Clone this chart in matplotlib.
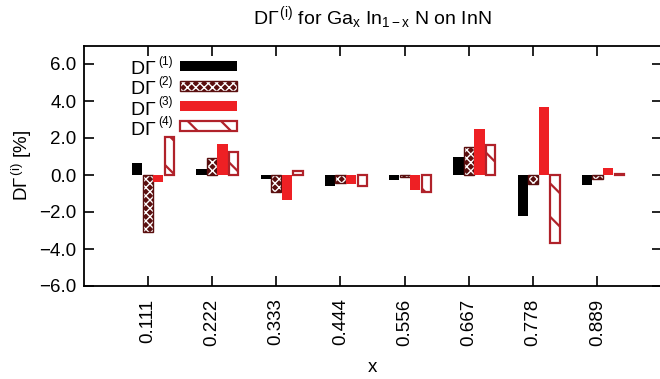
import matplotlib
matplotlib.use("Agg")
import matplotlib.pyplot as plt
from matplotlib.patches import Rectangle
import numpy as np

plt.rcParams['font.family'] = ['Liberation Sans', 'DejaVu Sans']
plt.rcParams['mathtext.fontset'] = 'custom'
plt.rcParams['mathtext.rm'] = 'Liberation Sans'
plt.rcParams['mathtext.it'] = 'Liberation Sans'
plt.rcParams['mathtext.bf'] = 'Liberation Sans'
plt.rcParams['hatch.linewidth'] = 1.6

categories = ["0.111", "0.222", "0.333", "0.444", "0.556", "0.667", "0.778", "0.889"]
d1 = [0.63, 0.31, -0.22, -0.58, -0.25, 0.99, -2.20, -0.53]
d2 = [-3.06, 0.94, -0.92, -0.41, -0.09, 1.51, -0.47, -0.21]
d3 = [-0.36, 1.68, -1.35, -0.50, -0.81, 2.49, 3.69, 0.38]
d4 = [2.04, 1.23, 0.22, -0.58, -0.90, 1.60, -3.69, 0.05]
sups = ["(1)", "(2)", "(3)", "(4)"]
yticks = [-6, -4, -2, 0, 2, 4, 6]

black = "#000000"
maroon = "#5a0f0f"
red = "#ee2024"
hred = "#b0222a"
FS = 13.5

W, H = 660, 379
fig = plt.figure(figsize=(W / 100, H / 100), dpi=100)
L, R, T, B = 83.5, 661.6, 45.5, 286.0
ax = fig.add_axes([L / W, 1 - B / H, (R - L) / W, (B - T) / H])


def thin_hatch(patches, lw):
    for p in patches:
        if hasattr(p, "set_hatch_linewidth"):
            p.set_hatch_linewidth(lw)


x = np.arange(len(categories))
w = 0.16
ax.bar(x - 0.162, d1, width=w, color=black, linewidth=0)
with plt.rc_context({'hatch.linewidth': 1.0}):
    bc = ax.bar(x, d2, width=w, facecolor=maroon, edgecolor="white", hatch="xxxx", linewidth=0)
thin_hatch(bc, 1.0)
ax.bar(x, d2, width=w, fill=False, edgecolor=maroon, linewidth=1.0)
ax.bar(x + 0.165, d3, width=w, color=red, linewidth=0)
ax.bar(x + 0.34, d4, width=0.145, facecolor="white", edgecolor=hred, hatch="\\", linewidth=1.6)

ax.set_xlim(-1, 8)
ax.set_ylim(-6, 7)
ax.set_xticks(x)
ax.set_xticklabels(categories, rotation=90, fontsize=FS)
ax.set_yticks(yticks)
ax.set_yticklabels([("%.1f" % v).replace("-", "\u2212") for v in yticks], fontsize=FS)
ax.tick_params(direction="in", length=7, width=1.2, top=True, right=True)
ax.tick_params(axis="x", pad=9)
ax.tick_params(axis="y", pad=5)
for s in ax.spines.values():
    s.set_linewidth(1.3)

# legend (key) drawn in figure pixel coordinates
ycent = [65.7, 85.7, 105.9, 125.7]
styles = [
    dict(facecolor=black, linewidth=0),
    dict(facecolor=maroon, edgecolor="white", hatch="xxxx", linewidth=0),
    dict(facecolor=red, linewidth=0),
    dict(facecolor="white", edgecolor=hred, hatch="\\", linewidth=1.6),
]
for sup, yc, st in zip(sups, ycent, styles):
    fig.text(156.5 / W, 1 - (yc + 8.8) / H, r"D$\Gamma$", ha="right", va="baseline", fontsize=FS + 0.5)
    fig.text(158.5 / W, 1 - (yc - 1.0) / H, sup, ha="left", va="baseline", fontsize=8.5)
    rect = ((179.5 / W, 1 - (yc + 5) / H), 57 / W, 10 / H)
    if st.get("hatch") == "xxxx":
        with plt.rc_context({'hatch.linewidth': 1.0}):
            r = Rectangle(*rect, transform=fig.transFigure, **st)
        thin_hatch([r], 1.0)
    else:
        r = Rectangle(*rect, transform=fig.transFigure, **st)
    fig.add_artist(r)
    if st.get("hatch") == "xxxx":
        fig.add_artist(Rectangle(*rect, transform=fig.transFigure, fill=False,
                                 edgecolor=maroon, linewidth=1.0))

fig.text(372 / W, 1 - 18 / H, r"D$\Gamma^{\,(i)}$ for Ga$_{\rm x}$ In$_{\rm 1-x}$ N on InN",
         ha="center", va="center", fontsize=14)
fig.text(372 / W, 1 - 367 / H, "x", ha="center", va="center", fontsize=FS)
fig.text(22 / W, 1 - 166 / H, r"D$\Gamma^{\,(i)}$ [%]", ha="center", va="center",
         rotation=90, fontsize=FS)

fig.savefig("out.png", dpi=100)
